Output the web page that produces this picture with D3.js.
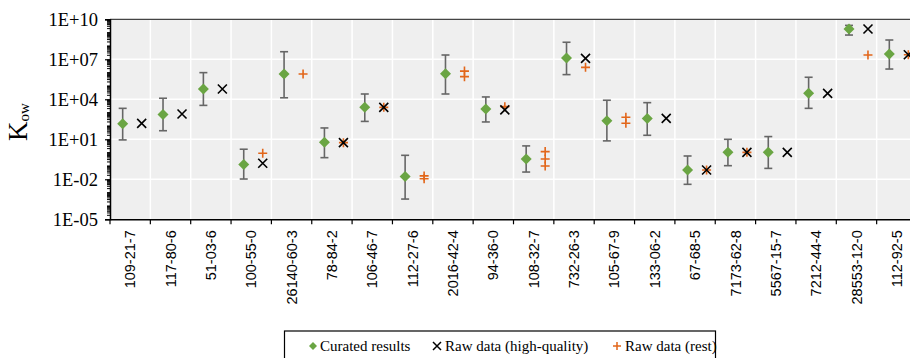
<!DOCTYPE html>
<html><head><meta charset="utf-8">
<script src="https://cdn.jsdelivr.net/npm/d3@7"></script>
<style>body{margin:0;background:#fff}svg{display:block}.serif{font-family:"Liberation Serif","Times New Roman",serif}.sans{font-family:"Liberation Sans",Arial,sans-serif}</style>
</head><body><svg id="c" width="910" height="358"></svg>
<script>
const categories = ["109-21-7","117-80-6","51-03-6","100-55-0","26140-60-3","78-84-2","106-46-7","112-27-6","2016-42-4","94-36-0","108-32-7","732-26-3","105-67-9","133-06-2","67-68-5","7173-62-8","5567-15-7","7212-44-4","28553-12-0","112-92-5"];
const curated = [148,740,59000,0.13,8.0e5,5.9,2500,0.016,8.3e5,1900,0.33,1.26e7,250,370,0.05,1.05,1.05,28000,1.86e9,2.5e7];
const curatedLow = [9,44,3500,0.0105,13000,0.42,220,3.3e-4,25000,200,0.035,7.1e5,7.6,20,0.0042,0.105,0.066,2100,6.6e8,1.86e6];
const curatedHigh = [2100,12000,1.0e6,1.8,3.7e7,71,25000,0.63,2.1e7,15000,3.2,1.9e8,8500,5600,0.56,10,16,4.5e5,3.5e9,2.8e8];
const rawHigh = [158,790,59000,0.16,null,5.6,2500,null,null,1600,null,1.17e7,null,370,0.05,1.05,1.05,28000,1.86e9,2.2e7];
const rawRestCat = [3,4,5,6,7,7,8,8,9,10,10,10,11,12,12,14,15,18,19];
const rawRestVal = [0.9,8.0e5,5.6,2500,0.018,0.011,1.3e6,5.0e5,2800,1.2,0.33,0.1,2.5e6,450,160,0.05,1.05,2.1e7,2.2e7];
const yTicks = [1e-5,1e-2,1e1,1e4,1e7,1e10];
const yTickLabels = ["1E-05","1E-02","1E+01","1E+04","1E+07","1E+10"];

const svg = d3.select("#c");
const mLeft = 110, mTop = 19.3, mBottom = 219.3, band = 40.35;
const mRight = mLeft + band * categories.length;
const x = d3.scaleBand().domain(categories).range([mLeft, mRight]).padding(0);
const y = d3.scaleLog().domain([1e-5, 1e10]).range([mBottom, mTop]);
const green = "#6aa543", orange = "#e2661a";

svg.append("rect").attr("x", mLeft).attr("y", mTop).attr("width", mRight - mLeft).attr("height", mBottom - mTop).attr("fill", "#efefef");
svg.append("g").selectAll("line").data(yTicks.slice(1, -1)).join("line")
  .attr("x1", mLeft).attr("x2", mRight).attr("y1", d => y(d)).attr("y2", d => y(d))
  .attr("stroke", "#fff").attr("stroke-width", 1.5);
svg.append("g").selectAll("line").data(categories.slice(1)).join("line")
  .attr("x1", d => x(d)).attr("x2", d => x(d)).attr("y1", mTop).attr("y2", mBottom)
  .attr("stroke", "#fff").attr("stroke-width", 1.5);
svg.append("line").attr("x1", mLeft).attr("x2", mRight).attr("y1", mTop).attr("y2", mTop).attr("stroke", "#444").attr("stroke-width", 1.2);

const minor = [];
for (let k = -5; k < 10; k++) for (let m = 1; m <= 9; m++) { const v = m * Math.pow(10, k); if (v > 1e-5 && v < 1e10 && !(m === 1 && (k + 5) % 3 === 0)) minor.push(v); }
svg.append("g").selectAll("line").data(minor).join("line")
  .attr("x1", mLeft - 3).attr("x2", mLeft).attr("y1", d => y(d)).attr("y2", d => y(d))
  .attr("stroke", "#000").attr("stroke-width", 1);

const yAxis = d3.axisLeft(y).tickValues(yTicks).tickFormat((d, i) => yTickLabels[i]).tickSize(5).tickPadding(7);
const gy = svg.append("g").attr("transform", `translate(${mLeft},0)`).call(yAxis);
gy.attr("font-family", null).attr("font-size", null);
gy.select(".domain").attr("stroke", "#000").attr("stroke-width", 1.5);
gy.selectAll(".tick line").attr("stroke", "#000").attr("stroke-width", 1.2);
gy.selectAll("text").attr("class", "serif").style("font-size", "18.5px").attr("fill", "#000");

const xAxis = d3.axisBottom(x).tickSize(0).tickPadding(0);
const gx = svg.append("g").attr("transform", `translate(0,${mBottom})`).call(xAxis);
gx.attr("font-family", null).attr("font-size", null);
gx.select(".domain").attr("stroke", "#000").attr("stroke-width", 1.5);
gx.selectAll(".tick text").attr("class", "sans").style("font-size", "14.5px").attr("fill", "#000")
  .attr("transform", "rotate(-90)").attr("text-anchor", "end").attr("x", -11).attr("y", 0).attr("dy", "0.35em");
svg.append("g").selectAll("line").data(categories).join("line")
  .attr("x1", d => x(d)).attr("x2", d => x(d)).attr("y1", mBottom).attr("y2", mBottom + 5)
  .attr("stroke", "#000").attr("stroke-width", 1.2);

const yl = svg.append("text").attr("class", "serif").attr("transform", "translate(27,122) rotate(-90)").attr("text-anchor", "middle").attr("fill", "#000");
yl.append("tspan").style("font-size", "27px").text("K");
yl.append("tspan").style("font-size", "15px").attr("dy", 2).text("ow");

const dOff = -7.5, rOff = 11.5;
const cx = i => x(categories[i]) + band / 2;

const eb = svg.append("g").attr("stroke", "#666").attr("stroke-width", 1.6);
curated.forEach((v, i) => {
  const px = cx(i) + dOff;
  eb.append("line").attr("x1", px).attr("x2", px).attr("y1", y(curatedLow[i])).attr("y2", y(curatedHigh[i]));
  eb.append("line").attr("x1", px - 4).attr("x2", px + 4).attr("y1", y(curatedLow[i])).attr("y2", y(curatedLow[i]));
  eb.append("line").attr("x1", px - 4).attr("x2", px + 4).attr("y1", y(curatedHigh[i])).attr("y2", y(curatedHigh[i]));
});
const diamond = s => `M0,${-s}L${s},0L0,${s}L${-s},0Z`;
svg.append("g").selectAll("path").data(curated).join("path")
  .attr("d", diamond(5.5)).attr("fill", green)
  .attr("transform", (d, i) => `translate(${cx(i) + dOff},${y(d)})`);
const plus = s => `M${-s},0H${s}M0,${-s}V${s}`;
svg.append("g").selectAll("path").data(rawRestVal).join("path")
  .attr("d", plus(4.5)).attr("stroke", orange).attr("stroke-width", 1.6).attr("fill", "none")
  .attr("transform", (d, i) => `translate(${cx(rawRestCat[i]) + rOff},${y(d)})`);
const cross = s => `M${-s},${-s}L${s},${s}M${-s},${s}L${s},${-s}`;
svg.append("g").selectAll("path").data(rawHigh.map((v, i) => ({v, i})).filter(d => d.v != null)).join("path")
  .attr("d", cross(4.5)).attr("stroke", "#000").attr("stroke-width", 1.6).attr("fill", "none")
  .attr("transform", d => `translate(${cx(d.i) + rOff},${y(d.v)})`);

const lg = svg.append("g");
lg.append("rect").attr("x", 284.5).attr("y", 331).attr("width", 431).attr("height", 40).attr("fill", "#fff").attr("stroke", "#000").attr("stroke-width", 1.2);
const ly = 346;
const legendItems = ["Curated results", "Raw data (high-quality)", "Raw data (rest)"];
lg.append("path").attr("d", diamond(4)).attr("fill", green).attr("transform", `translate(313,${ly})`);
lg.append("text").attr("class", "serif").attr("x", 320).attr("y", ly).attr("dy", "0.35em").style("font-size", "15px").text(legendItems[0]);
lg.append("path").attr("d", cross(4)).attr("stroke", "#000").attr("stroke-width", 1.5).attr("transform", `translate(437,${ly})`);
lg.append("text").attr("class", "serif").attr("x", 445).attr("y", ly).attr("dy", "0.35em").style("font-size", "15px").text(legendItems[1]);
lg.append("path").attr("d", plus(4)).attr("stroke", orange).attr("stroke-width", 1.5).attr("transform", `translate(617,${ly})`);
lg.append("text").attr("class", "serif").attr("x", 625).attr("y", ly).attr("dy", "0.35em").style("font-size", "15px").text(legendItems[2]);
</script></body></html>
